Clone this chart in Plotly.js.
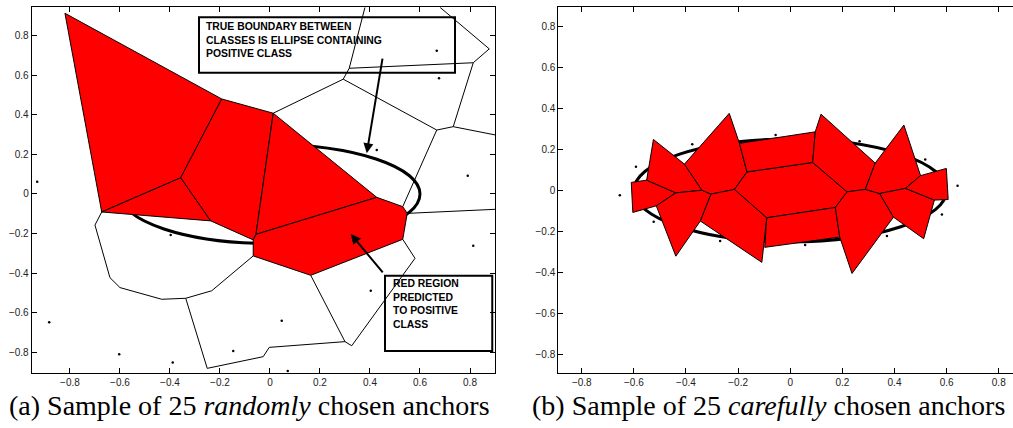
<!DOCTYPE html>
<html>
<head>
<meta charset="utf-8">
<script src="https://cdn.plot.ly/plotly-3.0.1.min.js"></script>
<style>
html,body{margin:0;padding:0;overflow:hidden;background:#fff;}
#chart{width:1024px;height:428px;}
</style>
</head>
<body>
<div id="chart"></div>
<script>
// ---------- tick labels ----------
const tickVals = [-0.8, -0.6, -0.4, -0.2, 0, 0.2, 0.4, 0.6, 0.8];
const tickText = ['\u22120.8', '\u22120.6', '\u22120.4', '\u22120.2', '0', '0.2', '0.4', '0.6', '0.8'];

// ---------- true class boundary (ellipse semi-axes) ----------
const ellipseA = 0.6;
const ellipseB = 0.25;

// ---------- (a) random anchors: red (positive) Voronoi cells ----------
const leftRedCellsX = [
  [-0.82, -0.193, -0.357, -0.673],
  [-0.673, -0.357, -0.237],
  [-0.193, 0.013, -0.056, -0.067, -0.237, -0.357],
  [0.013, 0.427, -0.056],
  [-0.056, 0.427, 0.531, 0.549, 0.531, 0.163, -0.067, -0.067]
];
const leftRedCellsY = [
  [0.913, 0.48, 0.082, -0.091],
  [-0.091, 0.082, -0.136],
  [0.48, 0.408, -0.204, -0.232, -0.136, 0.082],
  [0.408, -0.017, -0.204],
  [-0.204, -0.017, -0.064, -0.098, -0.229, -0.411, -0.313, -0.232]
];

// ---------- (a) white (negative) cell edges, null separates polylines ----------
const leftEdgesX = [0.38, 0.317, 0.293, 0.013, null,
  0.293, 0.667, 0.531, null,
  0.317, 0.813, 0.877, 0.68, null,
  0.813, 0.733, 0.667, null,
  0.733, 0.91, null,
  0.549, 0.91, null,
  0.531, 0.58, 0.327, 0.30, 0.163, null,
  0.30, -0.003, -0.027, -0.251, -0.337, -0.233, -0.067, null,
  -0.673, -0.70, -0.64, -0.60, -0.433, -0.337];
const leftEdgesY = [0.943, 0.635, 0.58, 0.408, null,
  0.58, 0.323, -0.064, null,
  0.635, 0.663, 0.733, 0.943, null,
  0.663, 0.34, 0.323, null,
  0.34, 0.296, null,
  -0.098, -0.077, null,
  -0.229, -0.325, -0.767, -0.746, -0.411, null,
  -0.746, -0.775, -0.822, -0.881, -0.527, -0.489, -0.313, null,
  -0.091, -0.157, -0.423, -0.473, -0.532, -0.527];

// ---------- (a) visible anchor points ----------
const leftDotsX = [0.667, 0.676, 0.427, 0.791, -0.931, -0.397, 0.813, 0.403, -0.883, 0.047, -0.603, -0.147, -0.389, 0.071];
const leftDotsY = [0.724, 0.585, 0.222, 0.092, 0.062, -0.207, -0.261, -0.489, -0.648, -0.640, -0.810, -0.793, -0.852, -0.894];

// ---------- (b) careful anchors: red cells ----------
const rightRedCellsX = [
  [-0.610, -0.551, -0.439, -0.514, -0.604],
  [-0.551, -0.525, -0.406, -0.339, -0.439],
  [-0.514, -0.439, -0.339, -0.304, -0.345, -0.439],
  [-0.406, -0.234, -0.195, -0.166, -0.214, -0.304, -0.339],
  [-0.304, -0.214, -0.090, -0.109, -0.345],
  [-0.166, 0.086, 0.218, 0.173, -0.090, -0.214],
  [-0.195, 0.096, 0.086, -0.166],
  [-0.090, 0.173, 0.190, -0.098],
  [0.096, 0.118, 0.326, 0.288, 0.218, 0.086],
  [0.218, 0.288, 0.343, 0.396, 0.237, 0.190, 0.173],
  [0.326, 0.436, 0.500, 0.442, 0.343, 0.288],
  [0.343, 0.442, 0.553, 0.512, 0.396],
  [0.500, 0.599, 0.606, 0.553, 0.442]
];
const rightRedCellsY = [
  [0.039, 0.050, -0.012, -0.075, -0.107],
  [0.050, 0.248, 0.128, 0.001, -0.012],
  [-0.075, -0.012, 0.001, -0.018, -0.149, -0.320],
  [0.128, 0.375, 0.229, 0.090, 0.005, -0.018, 0.001],
  [-0.018, 0.005, -0.133, -0.350, -0.149],
  [0.090, 0.136, -0.007, -0.083, -0.133, 0.005],
  [0.229, 0.285, 0.136, 0.090],
  [-0.133, -0.083, -0.227, -0.277],
  [0.285, 0.371, 0.133, 0.005, -0.007, 0.136],
  [-0.007, 0.005, -0.015, -0.130, -0.404, -0.227, -0.083],
  [0.133, 0.318, 0.072, 0.010, -0.015, 0.005],
  [-0.015, 0.010, -0.047, -0.235, -0.130],
  [0.072, 0.107, -0.044, -0.047, 0.010]
];

// ---------- (b) visible anchor points ----------
const rightDotsX = [-0.654, -0.592, -0.376, -0.524, -0.269, -0.056, 0.057, 0.266, 0.518, 0.642, 0.582, 0.371];
const rightDotsY = [-0.023, 0.115, 0.225, -0.153, -0.246, 0.270, -0.266, 0.239, 0.151, 0.023, -0.117, -0.222];

// ---------- captions and callout texts ----------
const captionA = '(a) Sample of 25 <i>randomly</i> chosen anchors';
const captionB = '(b) Sample of 25 <i>carefully</i> chosen anchors';
const calloutTop = 'TRUE BOUNDARY BETWEEN<br>CLASSES IS ELLIPSE CONTAINING<br>POSITIVE CLASS';
const calloutBottom = 'RED REGION<br>PREDICTED<br>TO POSITIVE<br>CLASS';

// close a polygon ring so its outline is drawn all the way round
const ring = a => a.concat([a[0]]);

// ---------- traces ----------
const traces = [];
traces.push({x: leftEdgesX, y: leftEdgesY, xaxis: 'x', yaxis: 'y', mode: 'lines',
  line: {color: '#000', width: 1}, hoverinfo: 'skip', connectgaps: false});
leftRedCellsX.forEach((cx, i) => traces.push({
  x: ring(cx), y: ring(leftRedCellsY[i]), xaxis: 'x', yaxis: 'y', mode: 'lines', fill: 'toself',
  fillcolor: '#ff0000', line: {color: '#000', width: 1}, hoverinfo: 'skip'}));
traces.push({x: leftDotsX, y: leftDotsY, xaxis: 'x', yaxis: 'y', mode: 'markers',
  marker: {color: '#000', size: 2.5}, hoverinfo: 'skip'});
rightRedCellsX.forEach((cx, i) => traces.push({
  x: ring(cx), y: ring(rightRedCellsY[i]), xaxis: 'x2', yaxis: 'y2', mode: 'lines', fill: 'toself',
  fillcolor: '#ff0000', line: {color: '#000', width: 1}, hoverinfo: 'skip'}));
traces.push({x: rightDotsX, y: rightDotsY, xaxis: 'x2', yaxis: 'y2', mode: 'markers',
  marker: {color: '#000', size: 2.5}, hoverinfo: 'skip'});

const axisCommon = {
  showline: true, linecolor: '#000', linewidth: 1, mirror: 'ticks',
  ticks: 'inside', ticklen: 5, tickwidth: 1, tickcolor: '#000',
  showgrid: false, zeroline: false, tickmode: 'array',
  tickvals: tickVals, ticktext: tickText,
  tickfont: {family: 'Liberation Sans, Arial, sans-serif', size: 10, color: '#222'},
  fixedrange: true
};

const yDom = [0.1292, 0.9829];
const layout = {
  width: 1024, height: 428,
  margin: {l: 0, r: 0, t: 0, b: 0},
  paper_bgcolor: '#fff', plot_bgcolor: '#fff',
  showlegend: false,
  xaxis: Object.assign({}, axisCommon, {domain: [0.03096, 0.4834], range: [-0.953, 0.9], anchor: 'y'}),
  yaxis: Object.assign({}, axisCommon, {domain: yDom, range: [-0.903, 0.943], anchor: 'x'}),
  xaxis2: Object.assign({}, axisCommon, {domain: [0.54521, 0.99824], range: [-0.89, 0.89], anchor: 'y2'}),
  yaxis2: Object.assign({}, axisCommon, {domain: yDom, range: [-0.887, 0.891], anchor: 'x2'}),
  shapes: [
    {type: 'circle', xref: 'x', yref: 'y', x0: -ellipseA, x1: ellipseA, y0: -ellipseB, y1: ellipseB,
     line: {color: '#000', width: 3}, layer: 'below'},
    {type: 'circle', xref: 'x2', yref: 'y2', x0: -ellipseA, x1: ellipseA, y0: -ellipseB, y1: ellipseB,
     line: {color: '#000', width: 3}, layer: 'below'},
    {type: 'rect', xref: 'x', yref: 'y', x0: -0.284, x1: 0.74, y0: 0.613, y1: 0.893,
     line: {color: '#000', width: 2}, fillcolor: 'rgba(0,0,0,0)', layer: 'above'},
    {type: 'rect', xref: 'x', yref: 'y', x0: 0.46, x1: 0.889, y0: -0.793, y1: -0.413,
     line: {color: '#000', width: 2}, fillcolor: 'rgba(0,0,0,0)', layer: 'above'}
  ],
  annotations: [
    {xref: 'x', yref: 'y', x: 0.387, y: 0.206, axref: 'x', ayref: 'y', ax: 0.451, ay: 0.691,
     text: '', showarrow: true, arrowhead: 2, arrowsize: 1, arrowwidth: 2, arrowcolor: '#000', standoff: 0},
    {xref: 'x', yref: 'y', x: 0.323, y: -0.202, axref: 'x', ayref: 'y', ax: 0.456, ay: -0.404,
     text: '', showarrow: true, arrowhead: 2, arrowsize: 1, arrowwidth: 2, arrowcolor: '#000', standoff: 0},
    {xref: 'x', yref: 'y', x: -0.263, y: 0.778, xanchor: 'left', yanchor: 'middle', align: 'left',
     text: calloutTop, showarrow: false,
     font: {family: 'Liberation Sans, Arial, sans-serif', size: 10.4, color: '#000', weight: 'bold'}},
    {xref: 'x', yref: 'y', x: 0.484, y: -0.554, xanchor: 'left', yanchor: 'middle', align: 'left',
     text: calloutBottom, showarrow: false,
     font: {family: 'Liberation Sans, Arial, sans-serif', size: 10.4, color: '#000', weight: 'bold'}},
    {xref: 'paper', yref: 'paper', x: 6.5 / 1024, y: 0.0537, xanchor: 'left', yanchor: 'middle',
     text: captionA, showarrow: false,
     font: {family: 'Liberation Serif, Times New Roman, serif', size: 28, color: '#000'}},
    {xref: 'paper', yref: 'paper', x: 530 / 1024, y: 0.0537, xanchor: 'left', yanchor: 'middle',
     text: captionB, showarrow: false,
     font: {family: 'Liberation Serif, Times New Roman, serif', size: 28, color: '#000'}}
  ]
};

Plotly.newPlot('chart', traces, layout, {displayModeBar: false, staticPlot: true});
</script>
</body>
</html>
